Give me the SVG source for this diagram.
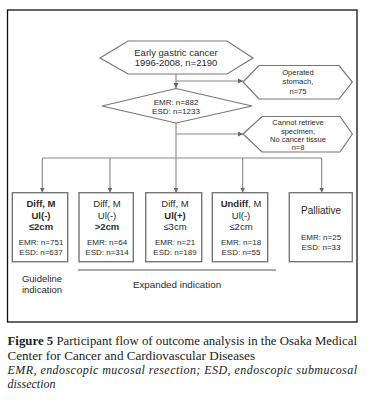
<svg xmlns="http://www.w3.org/2000/svg" width="373" height="405" viewBox="0 0 373 405">
<style>
.t{font-family:"Liberation Sans",Arial,sans-serif;fill:#2a2a2a;text-anchor:middle}
.b{font-weight:bold}
.shape{fill:#fff;stroke:#777;stroke-width:1.2}
.box{fill:#fff;stroke:#777;stroke-width:1.4}
.c{fill:none;stroke:#888;stroke-width:1.1}
.cap{font-family:"Liberation Serif","Times New Roman",serif;font-size:12px;fill:#222}
</style>
<defs>
<marker id="ah" viewBox="0 0 6 6" refX="6" refY="3" markerWidth="5" markerHeight="5" markerUnits="userSpaceOnUse" orient="auto">
<path d="M0,0 L6,3 L0,6 z" fill="#666"/>
</marker>
</defs>
<rect x="7.5" y="10" width="349.5" height="312" fill="#fff" stroke="#111" stroke-width="1.3"/>
<g id="connectors">
<line class="c" x1="176" y1="74" x2="176" y2="88" marker-end="url(#ah)"/>
<polyline class="c" points="176,81 243,81" marker-end="url(#ah)"/>
<line class="c" x1="176" y1="123" x2="176" y2="158"/>
<polyline class="c" points="176,134 243,134" marker-end="url(#ah)"/>
<line class="c" x1="42.3" y1="158" x2="321.7" y2="158"/>
<line class="c" x1="42.3" y1="158" x2="42.3" y2="192.5" marker-end="url(#ah)"/>
<line class="c" x1="110" y1="158" x2="110" y2="192.5" marker-end="url(#ah)"/>
<line class="c" x1="176" y1="158" x2="176" y2="192.5" marker-end="url(#ah)"/>
<line class="c" x1="242.7" y1="158" x2="242.7" y2="192.5" marker-end="url(#ah)"/>
<line class="c" x1="321.7" y1="158" x2="321.7" y2="192.5" marker-end="url(#ah)"/>
</g>
<g id="start">
<polygon class="shape" points="100,58 128,41 227,41 253,58 227,74 128,74"/>
<text class="t" x="176" y="55.5" font-size="9.5">Early gastric cancer</text>
<text class="t" x="176" y="66" font-size="9.5">1996-2008, n=2190</text>
</g>
<g id="operated">
<polygon class="shape" points="243,82 259,65.5 339,65.5 352.3,82 339,99 259,99"/>
<text class="t" x="298" y="74.8" font-size="7.6">Operated</text>
<text class="t" x="298" y="84.3" font-size="7.6">stomach,</text>
<text class="t" x="298" y="93.8" font-size="7.6">n=75</text>
</g>
<g id="treatment">
<polygon class="shape" points="102,106 176,88.5 252,106 176,123"/>
<text class="t" x="176" y="104.5" font-size="8">EMR: n=882</text>
<text class="t" x="176" y="114.3" font-size="8">ESD: n=1233</text>
</g>
<g id="excluded">
<polygon class="shape" points="243,134 262,116.5 340,116.5 352.3,134 340,152 262,152"/>
<text class="t" x="298" y="125.4" font-size="7.5">Cannot retrieve</text>
<text class="t" x="298" y="133.5" font-size="7.5">specimen,</text>
<text class="t" x="298" y="141.7" font-size="7.5">No cancer tissue</text>
<text class="t" x="298" y="149.8" font-size="7.5">n=8</text>
</g>
<g id="box1">
<rect class="box" x="12.3" y="192.7" width="55.4" height="69"/>
<text class="t b" x="41" y="206.5" font-size="9.5">Diff, M</text>
<text class="t b" x="41" y="218.5" font-size="9.5">Ul(-)</text>
<text class="t b" x="41" y="230" font-size="9.5">≤2cm</text>
<text class="t" x="41" y="245" font-size="8">EMR: n=751</text>
<text class="t" x="41" y="255" font-size="8">ESD: n=637</text>
</g>
<g id="box2">
<rect class="box" x="79" y="192.7" width="54.3" height="69"/>
<text class="t" x="107" y="206.5" font-size="9.5">Diff, M</text>
<text class="t" x="107" y="218.5" font-size="9.5">Ul(-)</text>
<text class="t b" x="107" y="230" font-size="9.5">&gt;2cm</text>
<text class="t" x="107" y="245" font-size="8">EMR: n=64</text>
<text class="t" x="107" y="255" font-size="8">ESD: n=314</text>
</g>
<g id="box3">
<rect class="box" x="145.7" y="192.7" width="56" height="69"/>
<text class="t" x="175" y="206.5" font-size="9.5">Diff, M</text>
<text class="t b" x="175" y="218.5" font-size="9.5">Ul(+)</text>
<text class="t" x="175" y="230" font-size="9.5">≤3cm</text>
<text class="t" x="175" y="245" font-size="8">EMR: n=21</text>
<text class="t" x="175" y="255" font-size="8">ESD: n=189</text>
</g>
<g id="box4">
<rect class="box" x="212.3" y="192.7" width="55.4" height="69"/>
<text class="t" x="241" y="206.5" font-size="9.5"><tspan font-weight="bold">Undiff</tspan>, M</text>
<text class="t" x="241" y="218.5" font-size="9.5">Ul(-)</text>
<text class="t" x="241" y="230" font-size="9.5">≤2cm</text>
<text class="t" x="241" y="245" font-size="8">EMR: n=18</text>
<text class="t" x="241" y="255" font-size="8">ESD: n=55</text>
</g>
<g id="box5">
<rect class="box" x="289.3" y="192.7" width="63" height="69"/>
<text class="t" x="321" y="213.5" font-size="10">Palliative</text>
<text class="t" x="321" y="240" font-size="8">EMR: n=25</text>
<text class="t" x="321" y="250" font-size="8">ESD: n=33</text>
</g>
<g id="labels">
<text class="t" x="42" y="281.5" font-size="9.5">Guideline</text>
<text class="t" x="42" y="292.5" font-size="9.5">indication</text>
<line x1="78" y1="270" x2="276" y2="270" stroke="#555" stroke-width="1"/>
<text class="t" x="177" y="288" font-size="9.8">Expanded indication</text>
</g>
<g id="caption">
<text class="cap" x="7.5" y="345" textLength="349.5" lengthAdjust="spacingAndGlyphs"><tspan font-weight="bold">Figure 5</tspan> Participant flow of outcome analysis in the Osaka Medical</text>
<text class="cap" x="7.5" y="359.5" textLength="247.5" lengthAdjust="spacingAndGlyphs">Center for Cancer and Cardiovascular Diseases</text>
<text class="cap" x="7.5" y="374" font-style="italic" textLength="349.5" lengthAdjust="spacing">EMR, endoscopic mucosal resection; ESD, endoscopic submucosal</text>
<text class="cap" x="7.5" y="388" font-style="italic">dissection</text>
</g>
</svg>
